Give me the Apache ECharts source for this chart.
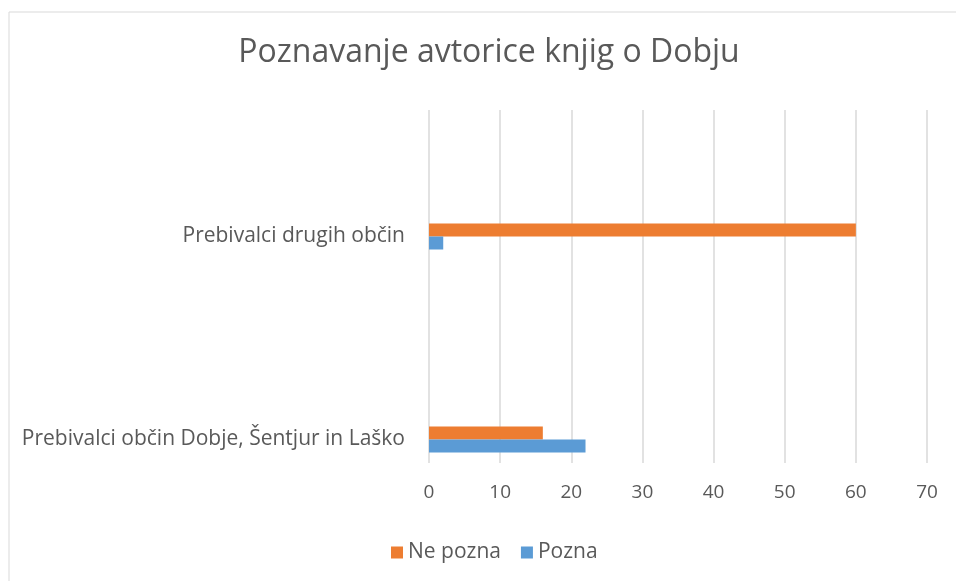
<!DOCTYPE html>
<html>
<head>
<meta charset="utf-8">
<script src="https://cdn.jsdelivr.net/npm/echarts@6/dist/echarts.min.js"></script>
<style>
  html, body { margin: 0; padding: 0; background: #fff; }
  #chart { width: 956px; height: 581px; }
</style>
</head>
<body>
<div id="chart"></div>
<script>
var categories = ['Prebivalci občin Dobje, Šentjur in Laško', 'Prebivalci drugih občin']
var pozna = [22, 2]
var nePozna = [16, 60]
var seriesNames = ['Ne pozna', 'Pozna']
var xTicks = [0, 10, 20, 30, 40, 50, 60, 70]

var textColor = '#595959'
var fontFam = '"Open Sans", "Noto Sans", sans-serif'

var chart = echarts.init(document.getElementById('chart'))
var option = {
    animation: false,
    backgroundColor: '#fff',
    title: {
        text: 'Poznavanje avtorice knjig o Dobju',
        left: 484,
        textAlign: 'center',
        top: 32,
        textStyle: { color: textColor, fontSize: 32, fontWeight: 'normal', fontFamily: fontFam }
    },
    legend: {
        data: seriesNames,
        top: 537,
        left: 386,
        icon: 'rect',
        itemWidth: 12,
        itemHeight: 12,
        itemGap: 20,
        textStyle: { color: textColor, fontSize: 21, fontFamily: fontFam }
    },
    graphic: [{
        type: 'rect',
        shape: { x: 9, y: 12, width: 1000, height: 700 },
        style: { fill: 'none', stroke: '#d9d9d9', lineWidth: 1 },
        silent: true
    }],
    grid: [
        // bars
        { left: 429, right: 29, top: 135, height: 406 },
        // gridlines + value labels
        { left: 429, right: 29, top: 110, height: 353 }
    ],
    xAxis: [{
        gridIndex: 0,
        type: 'value',
        min: 0, max: 70, interval: 10,
        show: false
    }, {
        gridIndex: 1,
        type: 'value',
        min: xTicks[0], max: xTicks[xTicks.length - 1], interval: 10,
        axisLine: { show: false },
        axisTick: { show: false },
        splitLine: { lineStyle: { color: '#d9d9d9', width: 1.5 } },
        axisLabel: { color: textColor, fontSize: 19, margin: 20, fontFamily: fontFam }
    }],
    yAxis: [{
        gridIndex: 0,
        type: 'category',
        data: categories,
        axisLine: { show: false },
        axisTick: { show: false },
        axisLabel: { color: textColor, fontSize: 21, margin: 24, fontFamily: fontFam }
    }, {
        gridIndex: 1,
        type: 'category',
        data: categories,
        show: false
    }],
    series: [{
        name: 'Ne pozna',
        type: 'bar',
        xAxisIndex: 0, yAxisIndex: 0,
        data: nePozna,
        barWidth: 13,
        barGap: '0%',
        itemStyle: { color: '#ED7D31' }
    }, {
        name: 'Pozna',
        type: 'bar',
        xAxisIndex: 0, yAxisIndex: 0,
        data: pozna,
        barWidth: 13,
        barGap: '0%',
        itemStyle: { color: '#5B9BD5' }
    }]
}
chart.setOption(option)
</script>
</body>
</html>
